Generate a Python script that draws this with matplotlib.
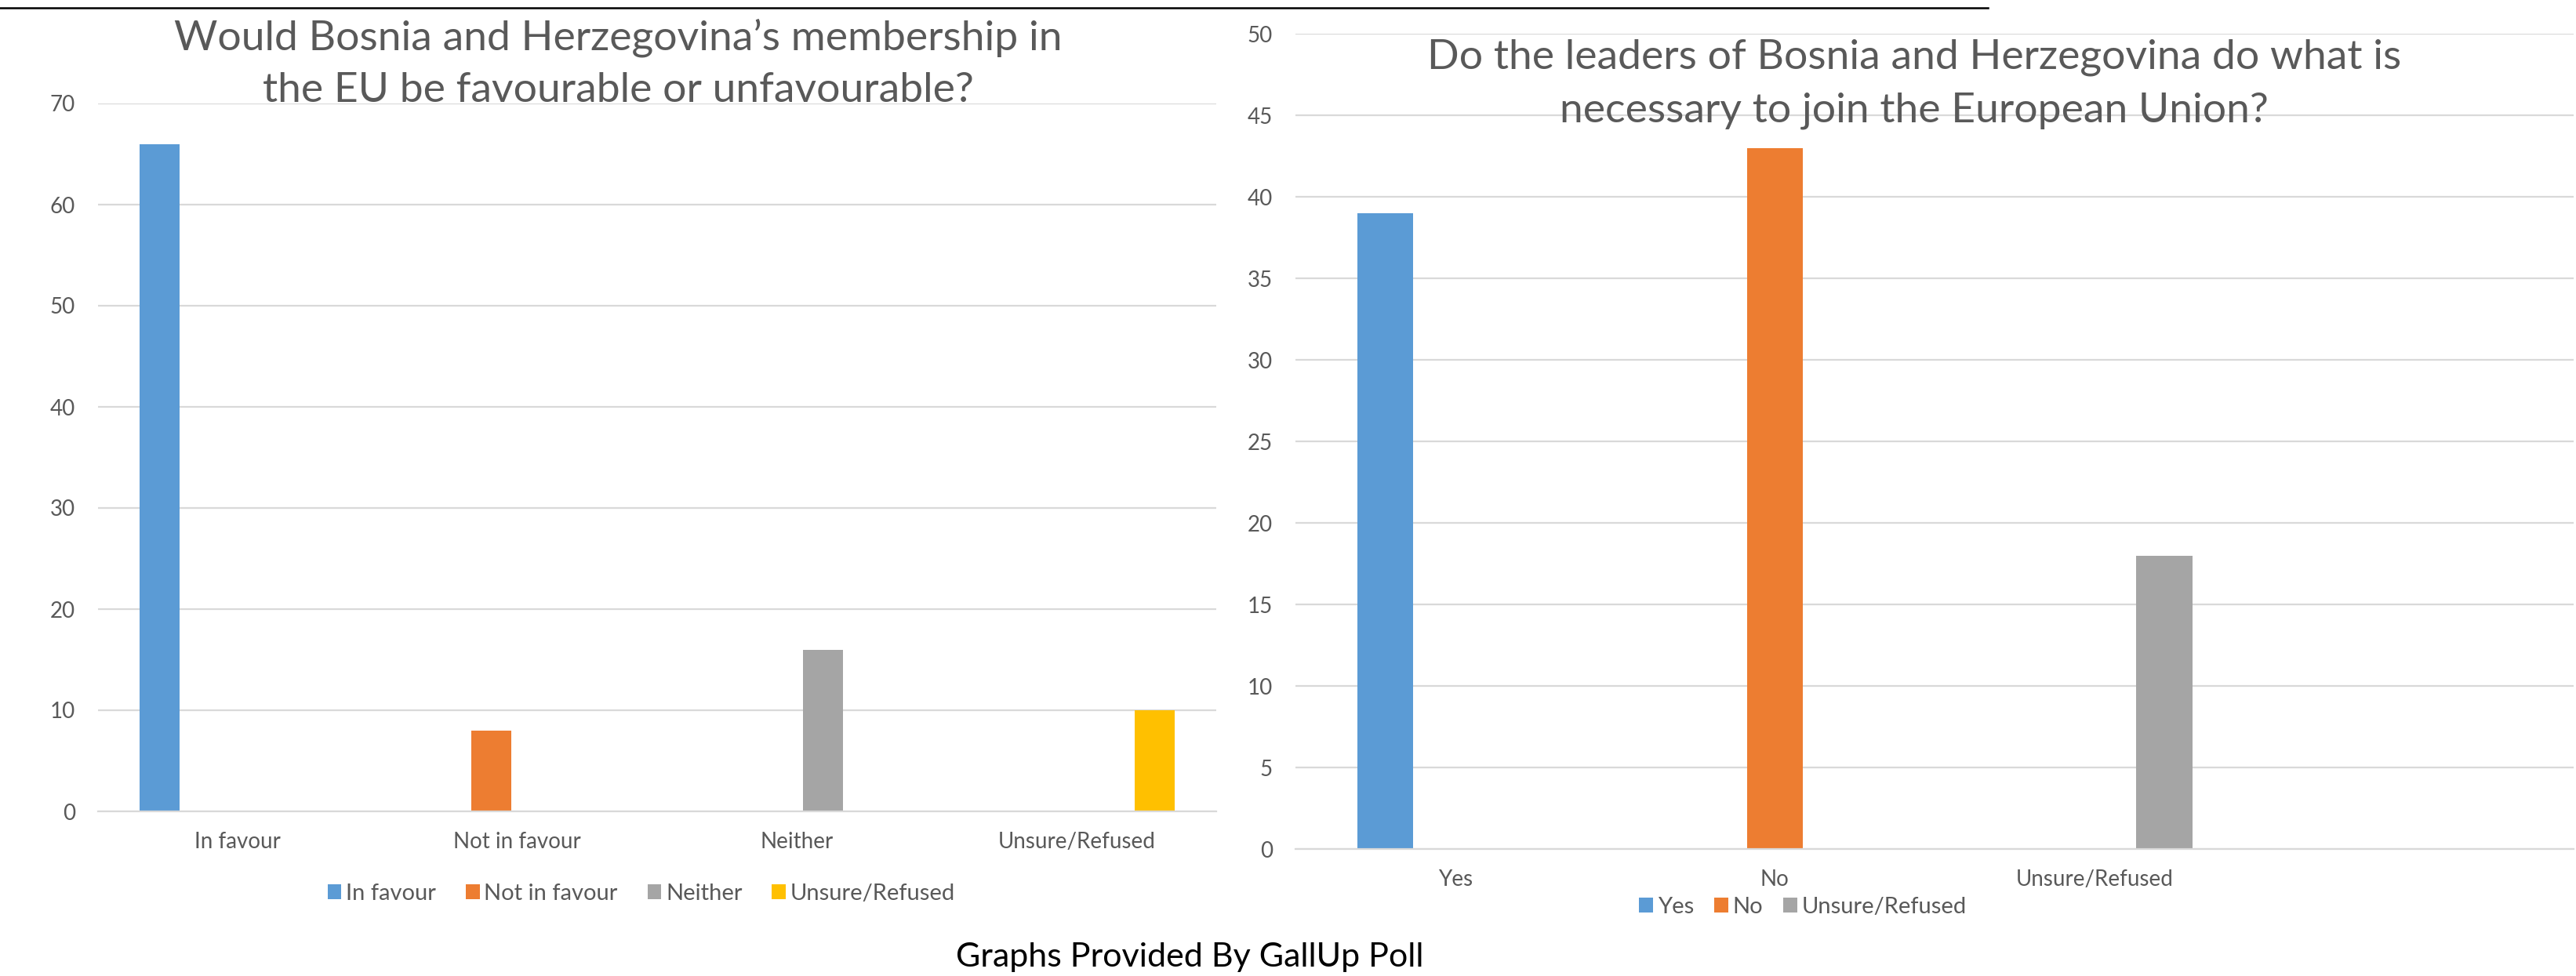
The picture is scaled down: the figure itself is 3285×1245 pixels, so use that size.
import numpy as np
import matplotlib.pyplot as plt
from matplotlib.lines import Line2D

plt.rcParams['font.family'] = ['Lato', 'DejaVu Sans']

# data
left_title = 'Would Bosnia and Herzegovina\u2019s membership in\nthe EU be favourable or unfavourable?'
left_cats = ['In favour', 'Not in favour', 'Neither', 'Unsure/Refused']
left_vals = [66, 8, 16, 10]

right_title = 'Do the leaders of Bosnia and Herzegovina do what is\nnecessary to join the European Union?'
right_cats = ['Yes', 'No', 'Unsure/Refused', '']
right_series = ['Yes', 'No', 'Unsure/Refused']
right_vals = [39, 43, 18]

footer = 'Graphs Provided By GallUp Poll'

colors = ['#5B9BD5', '#ED7D31', '#A5A5A5', '#FFC000']
grid_c = '#D9D9D9'
txt_c = '#595959'

W, H = 3285, 1245
fig = plt.figure(figsize=(W / 100, H / 100), dpi=100)

# top rule
fig.add_artist(Line2D([0, 2535 / W], [1 - 10 / H, 1 - 10 / H], color='black', lw=1.8))

def style(ax, ylim, step):
    ax.set_ylim(*ylim)
    ax.set_yticks(np.arange(ylim[0], ylim[1] + 0.1, step))
    ax.yaxis.grid(True, color=grid_c, lw=1.6)
    ax.set_axisbelow(True)
    for s in ['top', 'right', 'left']:
        ax.spines[s].set_visible(False)
    ax.spines['bottom'].set_color(grid_c)
    ax.spines['bottom'].set_linewidth(1.6)
    ax.tick_params(axis='both', length=0, colors=txt_c, labelsize=20)
    ax.tick_params(axis='y', pad=21)
    ax.tick_params(axis='x', pad=19)

# left chart: one series per category (clustered)
ax1 = fig.add_axes([125 / W, 1 - 1035 / H, 1426 / W, 903 / H])
n = len(left_cats)
x = np.arange(n)
for i, (name, v) in enumerate(zip(left_cats, left_vals)):
    heights = [v if j == i else 0 for j in range(n)]
    ax1.bar(x + (i - 1.5) * 0.187, heights, width=0.144, color=colors[i], label=name)
ax1.set_xlim(-0.5, n - 0.5)
ax1.set_xticks(x)
ax1.set_xticklabels(left_cats)
style(ax1, (0, 70), 10)
fig.legend(*ax1.get_legend_handles_labels(), loc='center', bbox_to_anchor=(818 / W, 1 - 1140 / H),
           ncol=4, frameon=False, fontsize=21, labelcolor=txt_c, handlelength=0.6, handleheight=0.6,
           handletextpad=0.2, columnspacing=1.3)
fig.text(788 / W, 1 - 81 / H, left_title, ha='center', va='center', fontsize=38.5,
         color=txt_c, linespacing=1.5)

# right chart
ax2 = fig.add_axes([1652 / W, 1 - 1083 / H, 1630 / W, 1040 / H])
m = len(right_cats)
x2 = np.arange(m)
for i, (name, v) in enumerate(zip(right_series, right_vals)):
    heights = [v if j == i else 0 for j in range(m)]
    ax2.bar(x2 + (i - 1) * 0.219, heights, width=0.175, color=colors[i], label=name)
ax2.set_xlim(-0.5, m - 0.5)
ax2.set_xticks(x2)
ax2.set_xticklabels(right_cats)
style(ax2, (0, 50), 5)
fig.legend(*ax2.get_legend_handles_labels(), loc='center', bbox_to_anchor=(2299 / W, 1 - 1157 / H),
           ncol=3, frameon=False, fontsize=21, labelcolor=txt_c, handlelength=0.6, handleheight=0.6,
           handletextpad=0.2, columnspacing=0.9)
fig.text(2441 / W, 1 - 107 / H, right_title, ha='center', va='center', fontsize=38.5,
         color=txt_c, linespacing=1.55)

fig.text(1517 / W, 1 - 1221 / H, footer, ha='center', va='center', fontsize=31, color='black')

fig.savefig('out.png', dpi=100)
